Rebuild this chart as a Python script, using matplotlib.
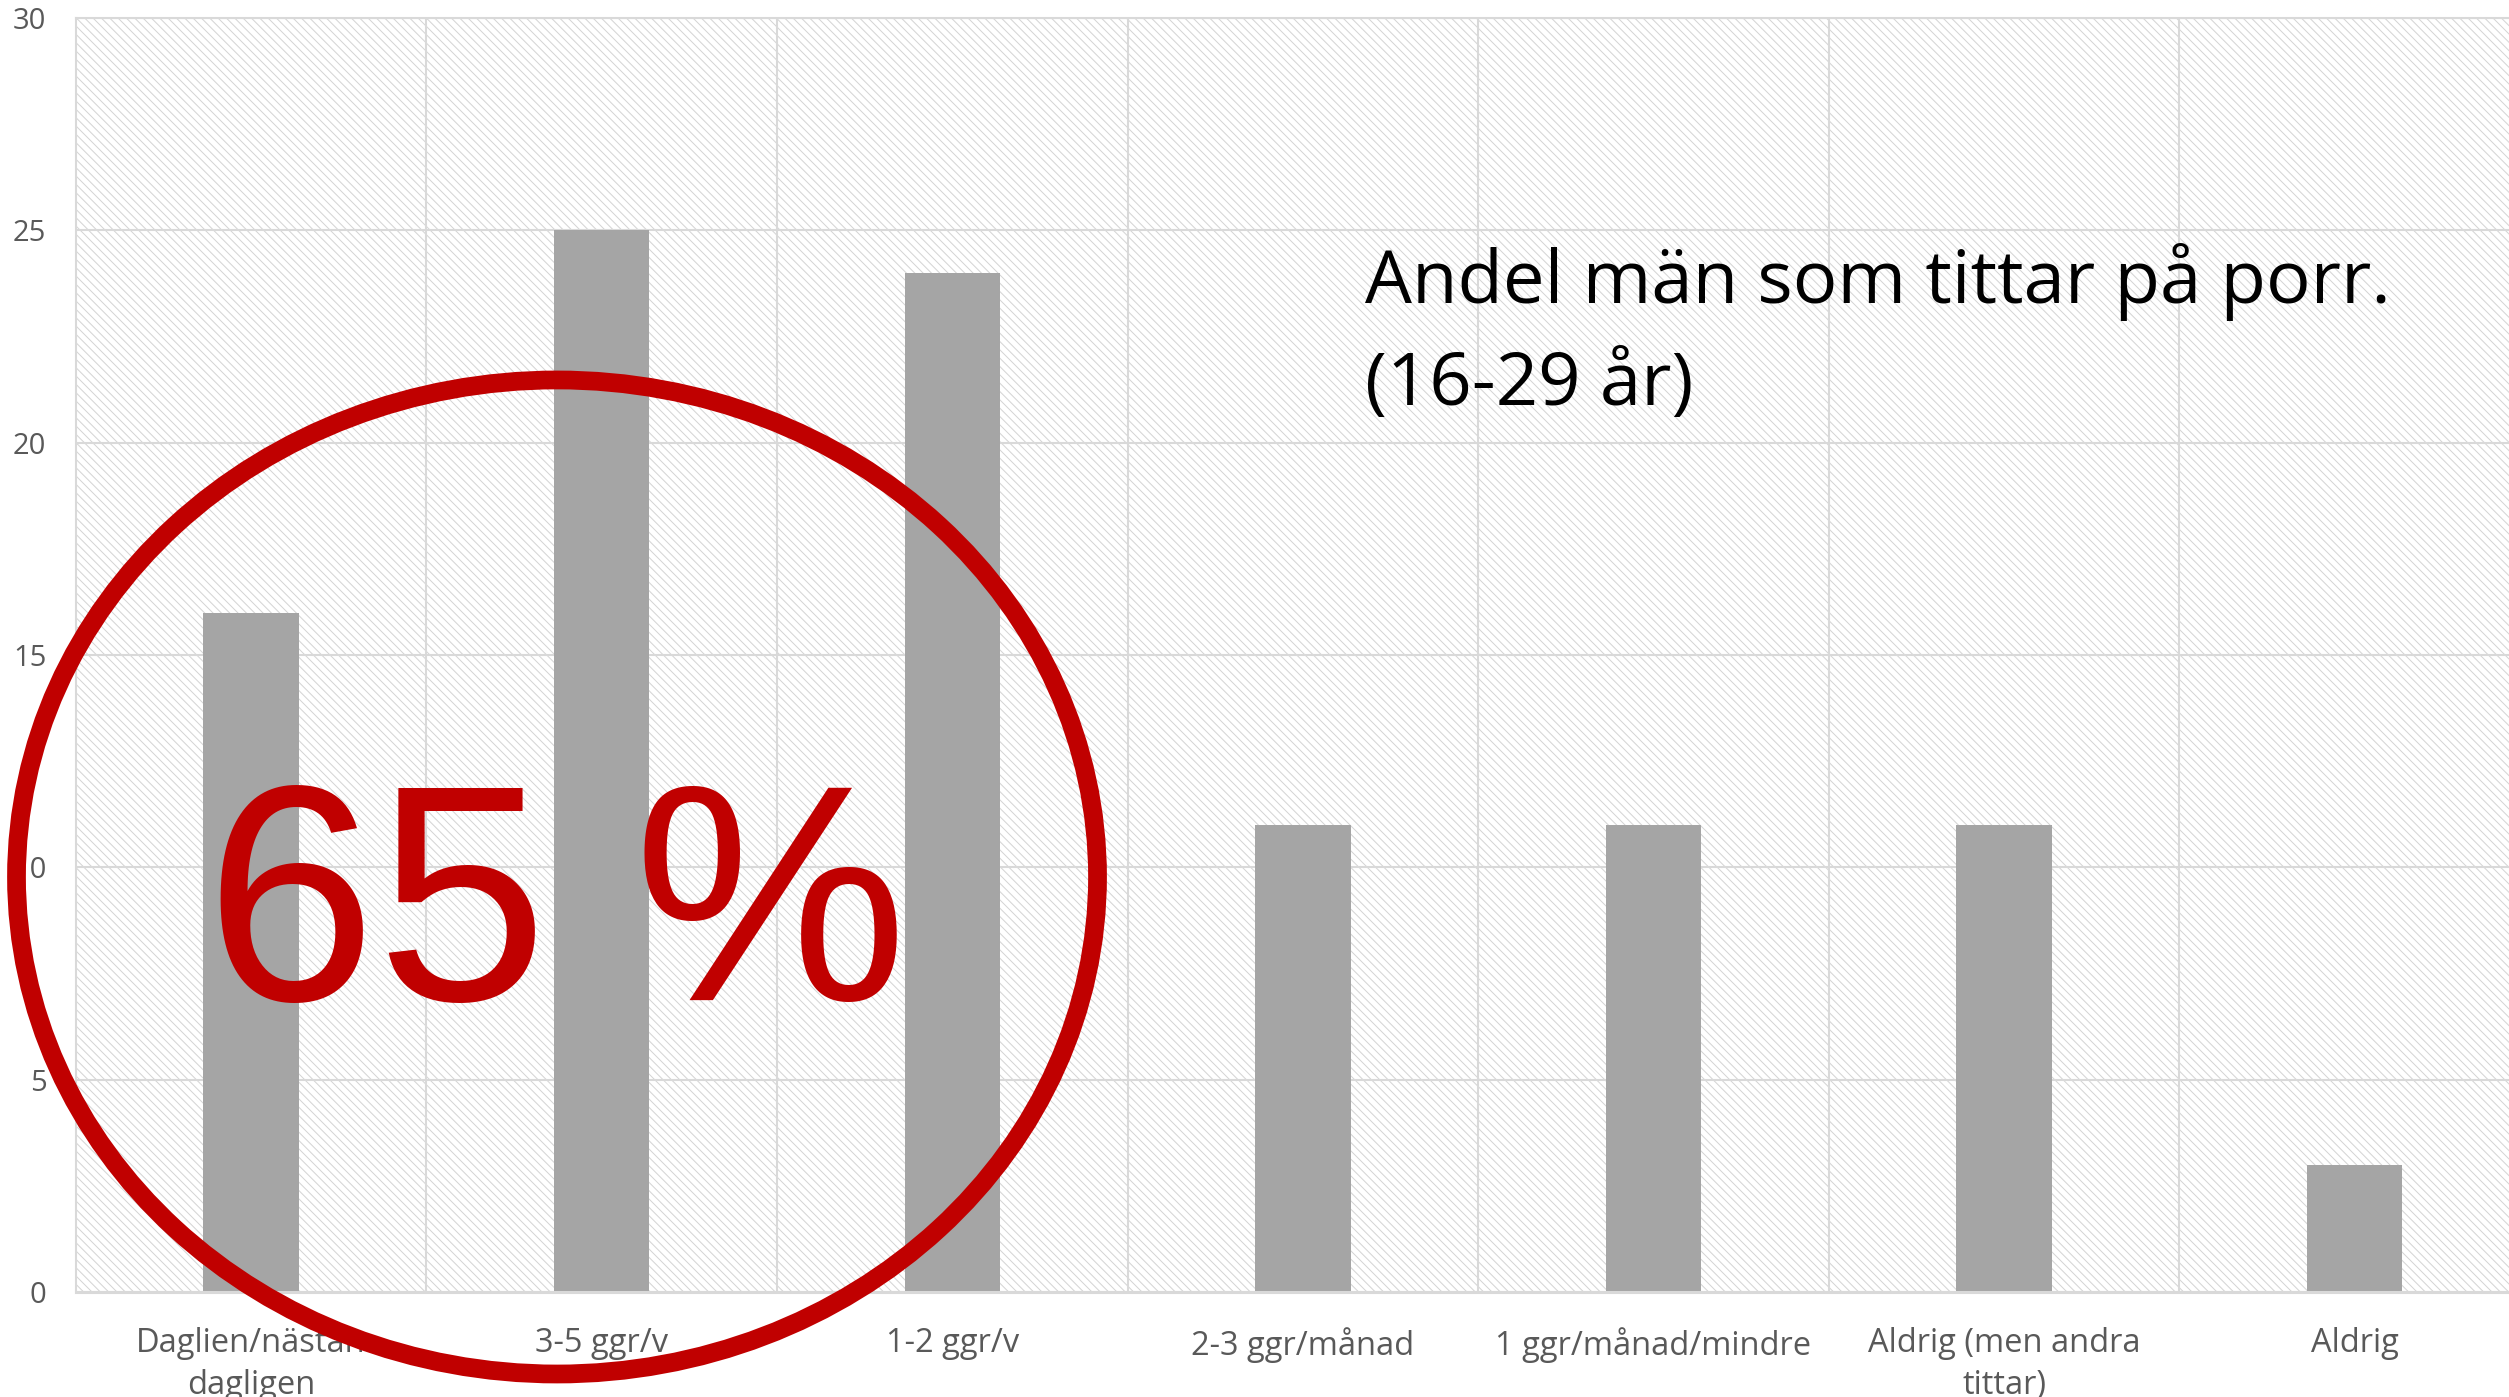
import numpy as np
import matplotlib
matplotlib.use("Agg")
import matplotlib.pyplot as plt
from matplotlib.patches import Rectangle, Ellipse

# Daten
kategorier = ["Daglien/nästan\ndagligen", "3-5 ggr/v", "1-2 ggr/v", "2-3 ggr/månad",
              "1 ggr/månad/mindre", "Aldrig (men andra\ntittar)", "Aldrig"]
andel = [16, 25, 24, 11, 11, 11, 3]
y_ticks = [0, 5, 10, 15, 20, 25, 30]
rubrik_1 = "Andel män som tittar på porr."
rubrik_2 = "(16-29 år)"
markering = "65 %"

W, H = 2509, 1397
plt.rcParams["hatch.linewidth"] = 0.72

fig = plt.figure(figsize=(W / 100 + 0.0005, H / 100 + 0.0005), dpi=100)
fig.patch.set_facecolor("white")

# Achse geht rechts ueber den Bildrand hinaus (wie im Original)
left, right, top, bottom = 75.6, 2530, 18, 1292
ax = fig.add_axes([left / W, 1 - bottom / H, (right - left) / W, (bottom - top) / H])

x = np.arange(len(kategorier))

# schraffierter Hintergrund
ax.add_patch(Rectangle((0, 0), 1, 1, transform=ax.transAxes, facecolor="white",
                       edgecolor="#D4D4D4", hatch="\\\\\\\\", lw=0, zorder=0))

ax.bar(x, andel, width=0.272, color="#A5A5A5", zorder=2)

ax.set_xlim(-0.5, len(kategorier) - 0.5)
ax.set_ylim(0, 30)

###################################### Style #################################
ax.set_yticks(y_ticks)
ax.set_xticks(x)
ax.set_xticklabels(kategorier, linespacing=1.38)
ax.set_xticks(x[:-1] + 0.5, minor=True)

ax.grid(axis="y", which="major", color="#D9D9D9", lw=1.5, zorder=1)
ax.grid(axis="x", which="minor", color="#D9D9D9", lw=1.5, zorder=1)
ax.set_axisbelow(True)

for s in ["left", "top", "right"]:
    ax.spines[s].set_color("#D9D9D9")
    ax.spines[s].set_linewidth(1.5)
ax.spines["bottom"].set_color("#D9D9D9")
ax.spines["bottom"].set_linewidth(2.2)

ax.tick_params(axis="both", which="both", length=0)
ax.tick_params(axis="y", pad=21, labelsize=21, labelcolor="#595959")
ax.tick_params(axis="x", pad=25, labelsize=23.5, labelcolor="#595959")
for lab in ax.get_xticklabels() + ax.get_yticklabels():
    lab.set_fontfamily("Open Sans")
##############################################################################

# Text im Bild
fig.text(1365 / W, 1 - 303 / H, rubrik_1, fontsize=53.5, family="Open Sans",
         color="black", ha="left", va="baseline")
fig.text(1365 / W, 1 - 405 / H, rubrik_2, fontsize=53.5, family="Open Sans",
         color="black", ha="left", va="baseline")

fig.text(205 / W, 1 - 1000 / H, markering, fontsize=222, family="Liberation Sans",
         color="#C00000", ha="left", va="baseline", zorder=5)

# roter Kreis
fig.add_artist(Ellipse((557 / W, 1 - 877 / H), 1081 / W, 994 / H,
                       transform=fig.transFigure, fill=False,
                       edgecolor="#C00000", lw=13.5, zorder=6))

fig.savefig("out.png", dpi=100)
